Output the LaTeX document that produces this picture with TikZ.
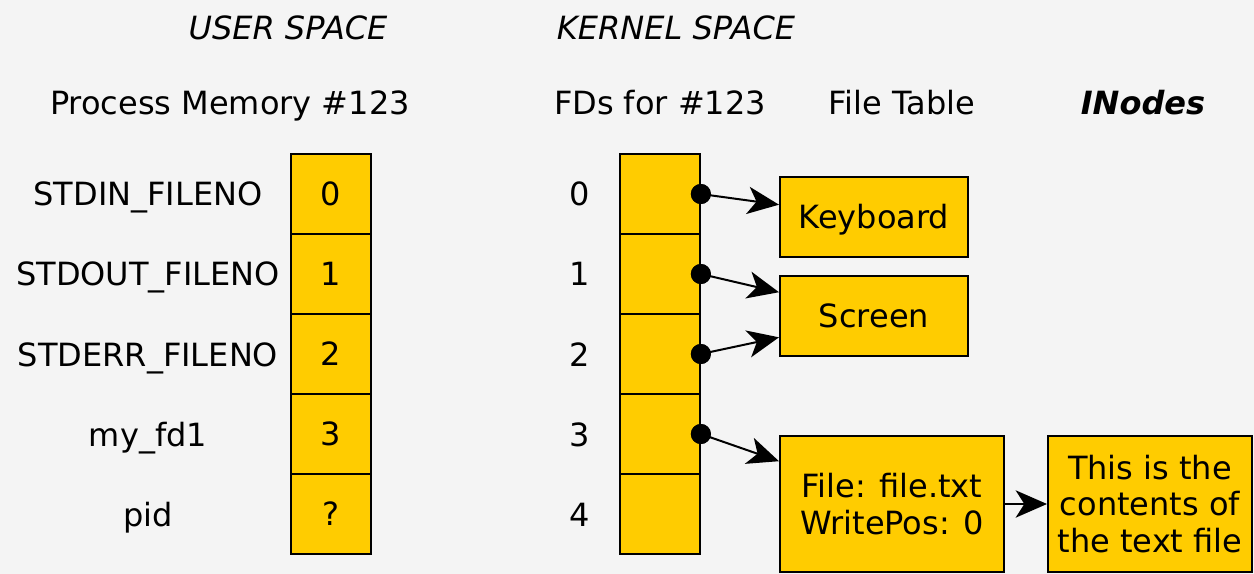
\documentclass[tikz,border=0pt]{standalone}
\usepackage{fontspec}
\setmainfont{DejaVu Sans}
\usetikzlibrary{arrows.meta,calc}
\definecolor{bg}{HTML}{F4F4F4}
\definecolor{yel}{HTML}{FFCC00}
\begin{document}
\begin{tikzpicture}[x=0.75pt,y=-0.75pt,
  font=\fontsize{24}{27.4}\selectfont,
  cell/.style={draw, fill=yel, line width=1.3pt, minimum width=60pt, minimum height=60pt, inner sep=0pt},
  box/.style={draw, fill=yel, line width=1.5pt, inner sep=0pt, align=center},
  onel/.style={text height=17.5pt, text depth=0pt},
  lbl/.style={inner sep=0pt, anchor=base},
  dot/.style={circle, fill=black, minimum size=15pt, inner sep=0pt},
  arr/.style={line width=1.5pt, -{Stealth[length=23.5pt, width=20.5pt, inset=6.5pt]}}]
\useasboundingbox (0,0) rectangle (1254,574);
\fill[bg] (0,0) rectangle (1254,574);

% headers
\node[lbl] (us) at (288,40) {\itshape USER SPACE};
\node[lbl] (ks) at (676,40) {\itshape KERNEL SPACE};
\node[lbl] (pm) at (230,115) {Process Memory \#123};
\node[lbl] (fdh) at (660,115) {FDs for \#123};
\node[lbl] (fth) at (902,115) {File Table};
\node[lbl] (inh) at (1143,115) {\bfseries\itshape INodes};

% memory cells and labels
\foreach \i/\v/\n in {0/0/STDIN\_FILENO, 1/1/STDOUT\_FILENO, 2/2/STDERR\_FILENO, 3/3/my\_fd1, 4/?/pid}{
  \node[cell] (m\i) at (331,194+80*\i) {\v};
  \node[lbl] (ml\i) at (148,206+80*\i) {\n};
  \node[cell] (f\i) at (660,194+80*\i) {};
  \node[lbl] (fl\i) at (580,206+80*\i) {\i};
}

% file table boxes
\node[box, onel, minimum width=141pt, minimum height=60pt] (kb) at (874,217) {Keyboard};
\node[box, onel, minimum width=141pt, minimum height=60pt] (sc) at (874,316) {Screen};
\node[box, minimum width=168pt, minimum height=102pt] (ff) at (892,504) {File: file.txt\\WritePos: 0};
\node[box, minimum width=153pt, minimum height=102pt] (ino) at (1150,504) {This is the\\contents of\\the text file};

% dots
\foreach \i in {0,1,2,3}{
  \node[dot] (d\i) at (f\i.east) {};
}

% arrows
\draw[arr] (d0.center) -- ($(kb.north west)!0.35!(kb.south west)$);
\draw[arr] (d1.center) -- ($(sc.north west)!0.21!(sc.south west)$);
\draw[arr] (d2.center) -- ($(sc.north west)!0.76!(sc.south west)$);
\draw[arr] (d3.center) -- ($(ff.north west)!0.19!(ff.south west)$);
\draw[arr] (ff.east) -- (ino.west);
\foreach \i in {0,1,2,3}{
  \fill (d\i) circle[radius=7.5pt];
}
\end{tikzpicture}
\end{document}
